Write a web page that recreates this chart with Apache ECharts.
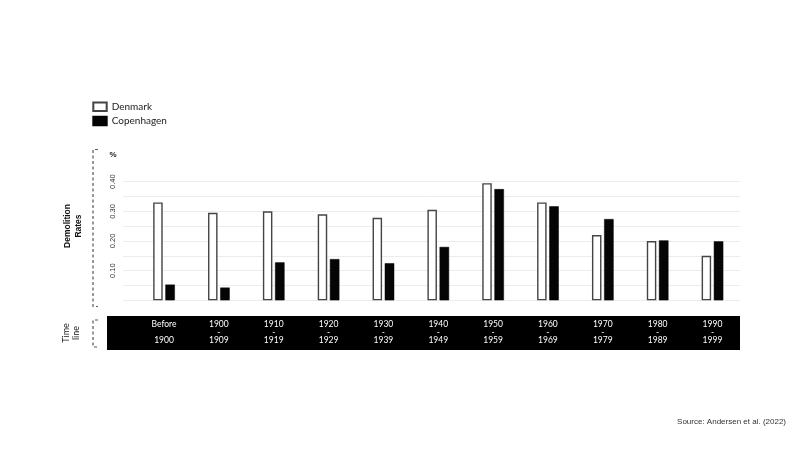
<!DOCTYPE html>
<html>
<head>
<meta charset="utf-8">
<script src="https://cdn.jsdelivr.net/npm/echarts@6/dist/echarts.min.js"></script>
<style>
html,body{margin:0;padding:0;background:#fff;}
#chart{width:804px;height:452px;}
</style>
</head>
<body>
<div id="chart"></div>
<script>
// ---- data ----
const periodStart = ['Before', '1900', '1910', '1920', '1930', '1940', '1950', '1960', '1970', '1980', '1990'];
const periodEnd   = ['1900', '1909', '1919', '1929', '1939', '1949', '1959', '1969', '1979', '1989', '1999'];
const denmark    = [0.330, 0.295, 0.300, 0.290, 0.278, 0.305, 0.395, 0.330, 0.220, 0.200, 0.150];
const copenhagen = [0.053, 0.043, 0.128, 0.139, 0.125, 0.180, 0.375, 0.317, 0.274, 0.202, 0.199];
const yTicks = [0.10, 0.20, 0.30, 0.40];

const categories = periodStart.map((s, i) => s + '\n' + (s === 'Before' ? ' ' : '-') + '\n' + periodEnd[i]);

const chart = echarts.init(document.getElementById('chart'));
const plotTop = 181.7, plotBottom = 452 - 300.3;

chart.setOption({
  animation: false,
  backgroundColor: '#ffffff',
  legend: {
    orient: 'vertical',
    left: 92.3, top: 100.7, padding: 0,
    itemWidth: 13.4, itemHeight: 8.5, itemGap: 2.3,
    icon: 'rect',
    textStyle: { fontFamily: 'Lato', fontSize: 10, lineHeight: 12, color: '#222', padding: [0, 0, 0, 0] },
    data: ['Denmark', 'Copenhagen']
  },
  grid: [
    { left: 136.6, right: 64.1, top: plotTop, bottom: plotBottom },
    { left: 123, right: 64.1, top: plotTop, bottom: plotBottom }
  ],
  xAxis: [
    {
      type: 'category', gridIndex: 0, data: categories, z: 10,
      axisLine: { show: false }, axisTick: { show: false },
      axisLabel: {
        margin: 20, color: '#fff', fontFamily: 'Lato', fontSize: 8.5, lineHeight: 8
      }
    },
    { type: 'value', gridIndex: 1, show: false, min: 0, max: 1 }
  ],
  yAxis: [
    { type: 'value', gridIndex: 0, min: 0, max: 0.4, interval: 0.05, show: false },
    {
      type: 'value', gridIndex: 1, min: 0, max: 0.4, interval: 0.05,
      axisLine: { show: false }, axisTick: { show: false },
      splitLine: { show: true, lineStyle: { color: '#ececec', width: 1 } },
      axisLabel: {
        rotate: 90, margin: 6, color: '#333', fontFamily: 'Liberation Sans', fontSize: 7.5,
        formatter: v => {
          const hit = yTicks.find(t => Math.abs(t - v) < 1e-6);
          return hit !== undefined ? hit.toFixed(2) : '';
        }
      }
    }
  ],
  series: [
    {
      name: 'Denmark', type: 'bar', xAxisIndex: 0, yAxisIndex: 0,
      data: denmark, barWidth: 9.5, barGap: '28%',
      itemStyle: { color: '#ffffff', borderColor: '#444', borderWidth: 1.4 }
    },
    {
      name: 'Copenhagen', type: 'bar', xAxisIndex: 0, yAxisIndex: 0,
      data: copenhagen, barWidth: 9.5,
      itemStyle: { color: '#050505', borderColor: '#050505', borderWidth: 0.5 }
    }
  ],
  graphic: [
    { type: 'rect', z: 0, shape: { x: 107, y: 316, width: 633, height: 34 }, style: { fill: '#000' } },
    { type: 'polyline', shape: { points: [[98, 149.5], [93, 149.5], [93, 306.5], [98, 306.5]] },
      style: { stroke: '#555', lineWidth: 1.2, lineDash: [3, 2.5], fill: null } },
    { type: 'polyline', shape: { points: [[98, 320], [93, 320], [93, 347], [98, 347]] },
      style: { stroke: '#555', lineWidth: 1.2, lineDash: [3, 2.5], fill: null } },
    { type: 'text', x: 113, y: 155,
      style: { text: '%', font: 'bold 8px "Liberation Sans"', fill: '#222', align: 'center', verticalAlign: 'middle' } },
    { type: 'text', x: 73, y: 226, rotation: Math.PI / 2,
      style: { text: 'Demolition\nRates', font: 'bold 8.5px "Liberation Sans"', lineHeight: 11, fill: '#111', align: 'center', verticalAlign: 'middle' } },
    { type: 'text', x: 71, y: 333, rotation: Math.PI / 2,
      style: { text: 'Time\nline', font: '9px "Lato"', lineHeight: 10, fill: '#222', align: 'center', verticalAlign: 'middle' } },
    { type: 'text', right: 18, top: 418,
      style: { text: 'Source: Andersen et al. (2022)', font: '8px "Liberation Sans"', fill: '#333' } }
  ]
});
</script>
</body>
</html>
